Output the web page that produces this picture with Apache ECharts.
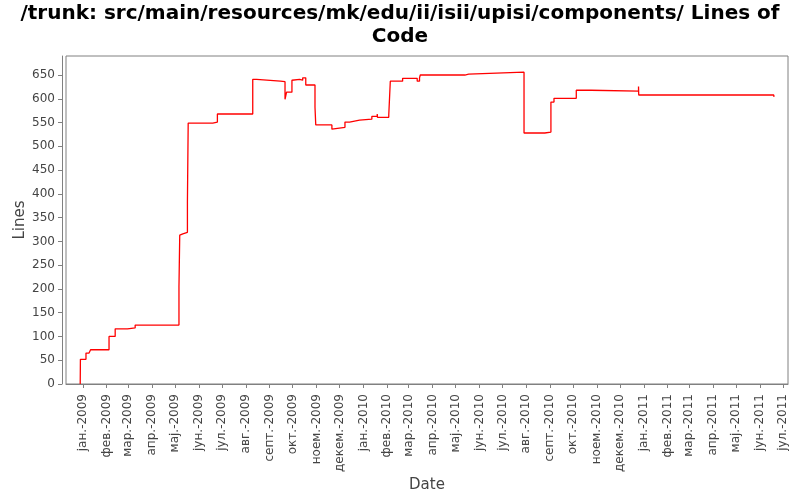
<!DOCTYPE html>
<html>
<head>
<meta charset="utf-8">
<script src="https://cdn.jsdelivr.net/npm/echarts@6/dist/echarts.min.js"></script>
<style>html,body{margin:0;padding:0;background:#fff}#c{width:800px;height:500px}</style>
</head>
<body>
<div id="c"></div>
<script>
var titleText = '/trunk: src/main/resources/mk/edu/ii/isii/upisi/components/ Lines of\nCode';
var xName = 'Date';
var yName = 'Lines';

// Commit dates and lines of code (step series)
var dates = [
  '2008-12-28T12:00Z','2008-12-28T18:00Z','2009-01-05T00:00Z','2009-01-09T00:00Z','2009-01-11T00:00Z',
  '2009-02-04T00:00Z','2009-02-12T00:00Z','2009-02-28T00:00Z','2009-03-10T00:00Z','2009-05-06T00:00Z',
  '2009-05-07T00:00Z','2009-05-09T00:00Z','2009-05-11T00:00Z','2009-05-17T00:00Z','2009-05-18T00:00Z',
  '2009-06-19T00:00Z','2009-06-25T00:00Z','2009-08-10T00:00Z','2009-08-15T00:00Z','2009-09-15T00:00Z',
  '2009-09-21T00:00Z','2009-09-23T00:00Z','2009-09-30T00:00Z','2009-10-02T00:00Z','2009-10-10T00:00Z',
  '2009-10-14T00:00Z','2009-10-18T00:00Z','2009-10-30T00:00Z','2009-10-31T00:00Z','2009-11-21T00:00Z',
  '2009-11-23T00:00Z','2009-12-08T00:00Z','2009-12-14T00:00Z','2009-12-27T00:00Z','2010-01-12T00:00Z',
  '2010-01-19T00:00Z','2010-01-19T06:00Z','2010-02-03T00:00Z','2010-02-05T00:00Z','2010-02-21T00:00Z',
  '2010-03-12T00:00Z','2010-03-15T00:00Z','2010-03-16T00:00Z','2010-05-13T00:00Z','2010-05-18T00:00Z',
  '2010-07-29T00:00Z','2010-08-25T00:00Z','2010-09-02T00:00Z','2010-09-06T00:00Z','2010-10-05T00:00Z',
  '2010-10-24T00:00Z','2010-12-25T00:00Z','2010-12-25T06:00Z','2011-06-19T00:00Z','2011-06-19T06:00Z'
];
var lines = [
  0, 52, 65, 69, 72,
  100, 116, 118, 124, 204,
  313, 316, 319, 382, 549,
  551, 568, 641, 637, 636,
  599, 614, 639, 641, 639,
  644, 629, 582, 545, 536,
  540, 551, 555, 557, 563,
  568, 561, 566, 637, 643,
  637, 644, 650, 652, 656,
  528, 530, 593, 601, 618,
  616, 626, 608, 612, 604
];

// Month tick labels, one per month starting January 2009
var tickLabels = [
  'јан.-2009','фев.-2009','мар.-2009','апр.-2009','мај.-2009','јун.-2009',
  'јул.-2009','авг.-2009','септ.-2009','окт.-2009','ноем.-2009','декем.-2009',
  'јан.-2010','фев.-2010','мар.-2010','апр.-2010','мај.-2010','јун.-2010',
  'јул.-2010','авг.-2010','септ.-2010','окт.-2010','ноем.-2010','декем.-2010',
  'јан.-2011','фев.-2011','мар.-2011','апр.-2011','мај.-2011','јун.-2011','јул.-2011'
];
var yTicks = [0,50,100,150,200,250,300,350,400,450,500,550,600,650];

var xMin = Date.parse('2008-12-10T00:00Z');
var xMax = Date.parse('2011-07-07T12:00Z');
var yMin = 0, yMax = 690;

var tickValues = tickLabels.map(function (l, i) { return Date.UTC(2009, i, 1); });
var labelMap = {};
tickValues.forEach(function (v, i) { labelMap[v] = tickLabels[i]; });

var seriesData = dates.map(function (d, i) { return [Date.parse(d), lines[i]]; });

var font = 'DejaVu Sans';
var axisGray = '#808080';
var chart = echarts.init(document.getElementById('c'));
chart.setOption({
  animation: false,
  backgroundColor: '#fff',
  textStyle: { fontFamily: font },
  title: {
    text: titleText,
    left: 'center',
    top: 2,
    padding: 0,
    textStyle: { fontFamily: font, fontSize: 20, fontWeight: 'bold', color: '#000', lineHeight: 23 }
  },
  grid: {
    left: 66, right: 12, top: 56, bottom: 116,
    show: true, borderColor: axisGray, borderWidth: 1, backgroundColor: '#fff'
  },
  xAxis: {
    type: 'value',
    min: xMin, max: xMax,
    offset: 4,
    name: xName,
    nameLocation: 'middle',
    nameGap: 90,
    nameMoveOverlap: false,
    nameTextStyle: { fontFamily: font, fontSize: 15, color: '#444' },
    axisLine: { show: true, lineStyle: { color: axisGray, width: 1 } },
    axisTick: { show: true, length: 4, lineStyle: { color: axisGray }, customValues: tickValues },
    axisLabel: {
      customValues: tickValues,
      rotate: 90, margin: 6, fontSize: 12, color: '#444', fontFamily: font,
      hideOverlap: false,
      formatter: function (v) { return labelMap[v] || ''; }
    },
    splitLine: { show: false }
  },
  yAxis: {
    type: 'value',
    min: yMin, max: yMax,
    offset: 4,
    name: yName,
    nameLocation: 'middle',
    nameRotate: 90,
    nameGap: 34,
    nameMoveOverlap: false,
    nameTextStyle: { fontFamily: font, fontSize: 15, color: '#444' },
    axisLine: { show: true, lineStyle: { color: axisGray, width: 1 } },
    axisTick: { show: true, length: 4, lineStyle: { color: axisGray }, customValues: yTicks },
    axisLabel: { customValues: yTicks, margin: 7, fontSize: 12, color: '#444', fontFamily: font },
    splitLine: { show: false }
  },
  series: [{
    type: 'line',
    step: 'end',
    data: seriesData,
    showSymbol: false,
    symbol: 'none',
    lineStyle: { color: '#ff0000', width: 1.3 },
    itemStyle: { color: '#ff0000' }
  }]
});
</script>
</body>
</html>
